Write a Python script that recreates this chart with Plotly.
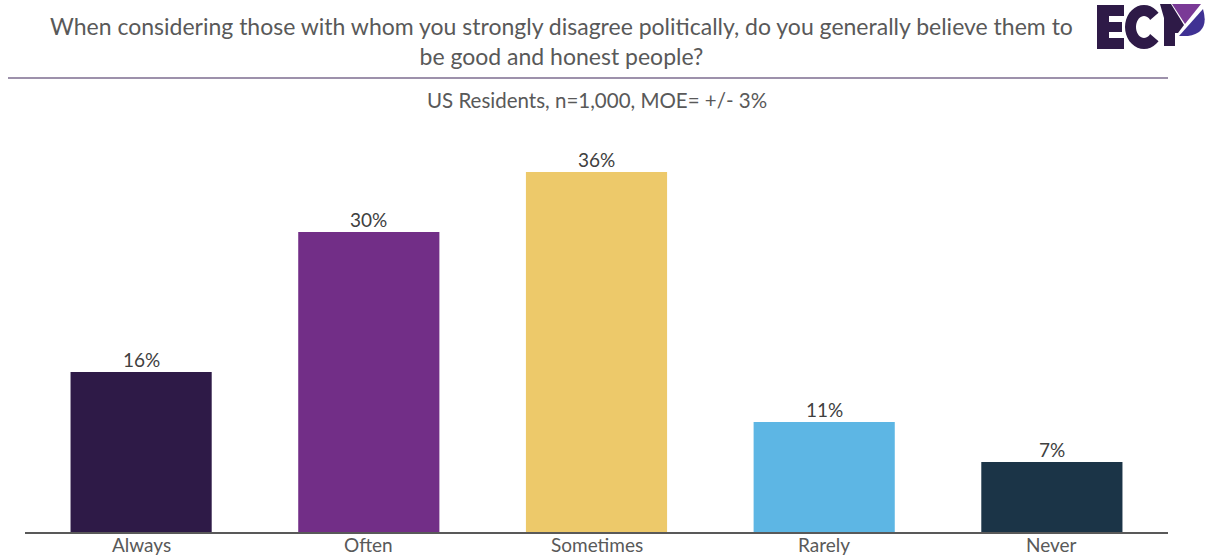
import math
import plotly.graph_objects as go

categories = ["Always", "Often", "Sometimes", "Rarely", "Never"]
values = [16, 30, 36, 11, 7]
value_labels = ["16%", "30%", "36%", "11%", "7%"]
bar_colors = ["#2e1a47", "#722e87", "#edc96a", "#5db6e4", "#1b3447"]

title_text = ("When considering those with whom you strongly disagree politically, do you generally believe them to"
              "<br>be good and honest people?")
subtitle_text = "US Residents, n=1,000, MOE= +/- 3%"

W, H = 1209, 560
PLOT_L, PLOT_R, PLOT_T, PLOT_B = 25, 1168, 130, 532
FONT = "Lato, 'Noto Sans', sans-serif"


def px(x):
    """Pixel x -> paper fraction."""
    return (x - PLOT_L) / (PLOT_R - PLOT_L)


def py(y):
    """Pixel y -> paper fraction."""
    return (PLOT_B - y) / (PLOT_B - PLOT_T)


def poly(points):
    """SVG path in paper coords from a list of pixel points."""
    pts = [f"{px(x)} {py(y)}" for x, y in points]
    return "M " + " L ".join(pts) + " Z"


fig = go.Figure(go.Bar(
    x=categories,
    y=values,
    marker=dict(color=bar_colors, line=dict(width=0)),
    width=0.62,
    hoverinfo="x+y",
))

# Value labels on top of each bar, category names just under the axis
for cat, val, lab in zip(categories, values, value_labels):
    fig.add_annotation(x=cat, y=val, text=lab, showarrow=False,
                       yanchor="bottom", yshift=-1,
                       font=dict(size=19, color="#404040", family=FONT))
    fig.add_annotation(x=cat, yref="paper", y=0, text=cat, showarrow=False,
                       yanchor="top", yshift=1,
                       font=dict(size=19, color="#595959", family=FONT))

fig.update_layout(
    width=W, height=H,
    margin=dict(l=PLOT_L, r=W - PLOT_R, t=PLOT_T, b=H - PLOT_B, autoexpand=False),
    paper_bgcolor="white", plot_bgcolor="white",
    showlegend=False,
    font=dict(family=FONT, color="#595959"),
    xaxis=dict(
        range=[-0.51, 4.51], automargin=False,
        showline=True, linecolor="#595959", linewidth=2,
        ticks="", showgrid=False, showticklabels=False,
    ),
    yaxis=dict(range=[0, 40.2], visible=False, showgrid=False, automargin=False),
)

# Title, rule and subtitle
fig.add_annotation(
    text=title_text, xref="paper", yref="paper",
    x=px(561), y=py(41), xanchor="center", yanchor="middle",
    showarrow=False, align="center",
    font=dict(size=23, color="#595959", family=FONT),
)
fig.add_shape(type="line", xref="paper", yref="paper",
              x0=px(8), x1=px(PLOT_R), y0=py(78), y1=py(78),
              line=dict(color="#7d6d8f", width=1.5))
fig.add_annotation(
    text=subtitle_text, xref="paper", yref="paper",
    x=px(597), y=py(100), xanchor="center", yanchor="middle",
    showarrow=False,
    font=dict(size=20.5, color="#595959", family=FONT),
)

# Brand mark: E, C and the check-shaped P
LOGO_DARK = "#2e1a47"
e_pts = [(1097, 5), (1124, 5), (1124, 16), (1109, 16), (1109, 22), (1122, 22),
         (1122, 32), (1109, 32), (1109, 38), (1124, 38), (1124, 49), (1097, 49)]
fig.add_shape(type="path", xref="paper", yref="paper", path=poly(e_pts),
              fillcolor=LOGO_DARK, line=dict(width=0))

cx, cy = 1144, 27
outer = [(cx + 19 * math.cos(math.radians(a)), cy - 22 * math.sin(math.radians(a)))
         for a in range(40, 321, 10)]
inner = [(cx + 8 * math.cos(math.radians(a)), cy - 11 * math.sin(math.radians(a)))
         for a in range(320, 39, -10)]
fig.add_shape(type="path", xref="paper", yref="paper", path=poly(outer + inner),
              fillcolor=LOGO_DARK, line=dict(width=0))

fig.add_shape(type="path", xref="paper", yref="paper",
              path=poly([(1160, 4), (1171, 4), (1184, 25), (1178, 33),
                         (1175, 33), (1175, 46), (1164, 46), (1164, 18)]),
              fillcolor=LOGO_DARK, line=dict(width=0))
fig.add_shape(type="path", xref="paper", yref="paper",
              path=poly([(1172, 4), (1201, 4), (1185, 24)]),
              fillcolor="#7a3a96", line=dict(width=0))
fig.add_shape(type="path", xref="paper", yref="paper",
              path=(f"M {px(1179)} {py(36)} L {px(1203)} {py(9)} "
                    f"Q {px(1210)} {py(33)} {px(1188)} {py(36)} Z"),
              fillcolor="#3f3193", line=dict(width=0))

fig.write_html("out.html")
